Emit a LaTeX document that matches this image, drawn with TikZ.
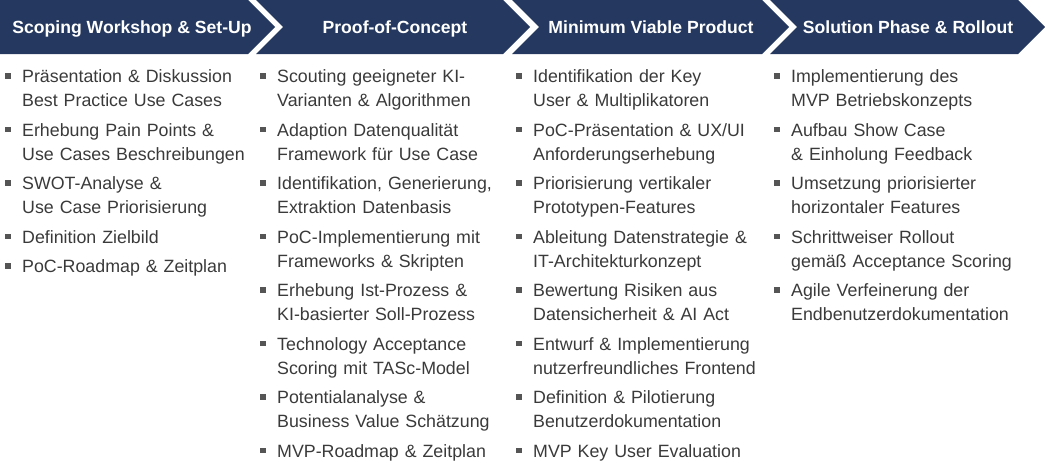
\documentclass[tikz,border=0pt]{standalone}
\usepackage{fontspec}
\setmainfont{Liberation Sans}
\definecolor{navy}{RGB}{37,57,96}
\definecolor{bodygrey}{RGB}{58,58,58}
\definecolor{bulletgrey}{RGB}{85,85,85}
\tikzset{
  chevron/.style={fill=navy, draw=none},
  headtext/.style={text=white, font=\fontsize{17.6}{20}\selectfont\bfseries, inner sep=0pt, anchor=base},
  itemtext/.style={text=bodygrey, font=\fontsize{17.8}{24}\selectfont, inner sep=0pt, anchor=base west, text width=250pt, align=left},
  bulletsq/.style={fill=bulletgrey, minimum size=5.8pt, inner sep=0pt, draw=none}
}
\newcommand\bitem[4]{%
  \node[itemtext] (#1) at (#2,#3) {#4};
  \node[bulletsq] (#1b) at ([xshift=-14pt, yshift=6.5pt]#1.base west) {};
}
\begin{document}
\begin{tikzpicture}[x=1pt,y=-1pt]
\useasboundingbox (0,0) rectangle (1045,463);
% chevrons
\fill[chevron] (0,0) -- (248,0) -- (275,27) -- (248,54) -- (0,54) -- cycle;
\fill[chevron] (256,0) -- (503,0) -- (530,27) -- (503,54) -- (256,54) -- (283,27) -- cycle;
\fill[chevron] (512,0) -- (762,0) -- (789,27) -- (762,54) -- (512,54) -- (539,27) -- cycle;
\fill[chevron] (770,0) -- (1018,0) -- (1045,27) -- (1018,54) -- (770,54) -- (797,27) -- cycle;
% headings
\node[headtext] (h1) at (132,33.5) {Scoping Workshop \& Set-Up};
\node[headtext] (h2) at (395,33.5) {Proof-of-Concept};
\node[headtext] (h3) at (651,33.5) {Minimum Viable Product};
\node[headtext] (h4) at (908,33.5) {Solution Phase \& Rollout};
% column 1
\bitem{a1}{22}{82.5}{Präsentation \& Diskussion\\Best Practice Use Cases}
\bitem{a2}{22}{136}{Erhebung Pain Points \&\\Use Cases Beschreibungen}
\bitem{a3}{22}{189.5}{SWOT-Analyse \&\\Use Case Priorisierung}
\bitem{a4}{22}{243}{Definition Zielbild}
\bitem{a5}{22}{272.5}{PoC-Roadmap \& Zeitplan}
% column 2
\bitem{b1}{277}{82.5}{Scouting geeigneter KI-\\Varianten \& Algorithmen}
\bitem{b2}{277}{136}{Adaption Datenqualität\\Framework für Use Case}
\bitem{b3}{277}{189.5}{Identifikation, Generierung,\\Extraktion Datenbasis}
\bitem{b4}{277}{243}{PoC-Implementierung mit\\Frameworks \& Skripten}
\bitem{b5}{277}{296.5}{Erhebung Ist-Prozess \&\\KI-basierter Soll-Prozess}
\bitem{b6}{277}{350}{Technology Acceptance\\Scoring mit TASc-Model}
\bitem{b7}{277}{403.5}{Potentialanalyse \&\\Business Value Schätzung}
\bitem{b8}{277}{457}{MVP-Roadmap \& Zeitplan}
% column 3
\bitem{c1}{533}{82.5}{Identifikation der Key\\User \& Multiplikatoren}
\bitem{c2}{533}{136}{PoC-Präsentation \& UX/UI\\Anforderungserhebung}
\bitem{c3}{533}{189.5}{Priorisierung vertikaler\\Prototypen-Features}
\bitem{c4}{533}{243}{Ableitung Datenstrategie \&\\IT-Architekturkonzept}
\bitem{c5}{533}{296.5}{Bewertung Risiken aus\\Datensicherheit \& AI Act}
\bitem{c6}{533}{350}{Entwurf \& Implementierung\\nutzerfreundliches Frontend}
\bitem{c7}{533}{403.5}{Definition \& Pilotierung\\Benutzerdokumentation}
\bitem{c8}{533}{457}{MVP Key User Evaluation}
% column 4
\bitem{d1}{791}{82.5}{Implementierung des\\MVP Betriebskonzepts}
\bitem{d2}{791}{136}{Aufbau Show Case\\\& Einholung Feedback}
\bitem{d3}{791}{189.5}{Umsetzung priorisierter\\horizontaler Features}
\bitem{d4}{791}{243}{Schrittweiser Rollout\\gemäß Acceptance Scoring}
\bitem{d5}{791}{296.5}{Agile Verfeinerung der\\Endbenutzerdokumentation}
\end{tikzpicture}
\end{document}
